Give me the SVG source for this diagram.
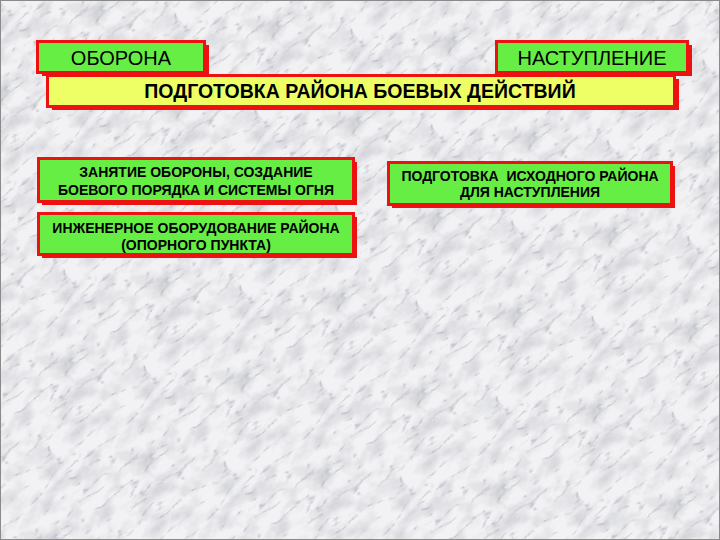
<svg xmlns="http://www.w3.org/2000/svg" width="720" height="540" viewBox="0 0 720 540">
<style>
.sh{fill:#ee1111}
.bx{stroke:#ee1111;stroke-width:3}
.g{fill:#66ee44}
.y{fill:#eeff66}
.big{font-family:"Liberation Sans",Arial,sans-serif;font-size:20px;fill:#000;text-anchor:middle}
.title{font-family:"Liberation Sans",Arial,sans-serif;font-size:19.5px;font-weight:bold;fill:#000;text-anchor:middle}
.sm{font-family:"Liberation Sans",Arial,sans-serif;font-size:14px;font-weight:bold;fill:#000;text-anchor:middle;white-space:pre}
</style>
<defs>
<filter id="marble" x="0" y="0" width="100%" height="100%" color-interpolation-filters="sRGB">
<feTurbulence type="fractalNoise" baseFrequency="0.04 0.06" numOctaves="4" seed="11" stitchTiles="stitch" result="c"/>
<feColorMatrix in="c" type="matrix" values="0 0 0 0 0  0 0 0 0 0  0 0 0 0 0  -1.6 0 0 0 0.95" result="ca"/>
<feFlood flood-color="#c8c9d0" result="cf"/>
<feComposite in="cf" in2="ca" operator="in" result="clouds"/>
<feTurbulence type="turbulence" baseFrequency="0.024 0.06" numOctaves="4" seed="5" stitchTiles="stitch" result="t"/>
<feColorMatrix in="t" type="matrix" values="0 0 0 0 0  0 0 0 0 0  0 0 0 0 0  -3.5 0 0 0 0.6" result="a"/>
<feFlood flood-color="#9a9ca8" result="f"/>
<feComposite in="f" in2="a" operator="in" result="veins"/>
<feFlood flood-color="#f2f2f4" result="base"/>
<feMerge><feMergeNode in="base"/><feMergeNode in="clouds"/><feMergeNode in="veins"/></feMerge>
</filter>
<pattern id="tile" width="125" height="125" patternUnits="userSpaceOnUse" patternTransform="rotate(-40)">
<rect width="125" height="125" filter="url(#marble)"/>
</pattern>
</defs>
<rect width="720" height="540" fill="#ececef"/>
<rect width="720" height="540" fill="url(#tile)"/>
<rect x="0.5" y="0.5" width="719" height="539" fill="none" stroke="#8a8a8a" stroke-width="1"/>
<g id="oborona">
<rect class="sh" x="42" y="45" width="167" height="31"/>
<rect class="bx g" x="37.5" y="41.5" width="167" height="31"/>
<text class="big" x="121" y="65">ОБОРОНА</text>
</g>
<g id="nastuplenie">
<rect class="sh" x="501" y="45" width="191" height="31"/>
<rect class="bx g" x="496.5" y="41.5" width="191" height="31"/>
<text class="big" x="592" y="65">НАСТУПЛЕНИЕ</text>
</g>
<g id="podgotovka">
<rect class="sh" x="52" y="79" width="627" height="31"/>
<rect class="bx y" x="47.5" y="75.5" width="627" height="31"/>
<text class="title" x="360" y="98">ПОДГОТОВКА РАЙОНА БОЕВЫХ ДЕЙСТВИЙ</text>
</g>
<g id="zanyatie">
<rect class="sh" x="42" y="162" width="315" height="43"/>
<rect class="bx g" x="38.5" y="158.5" width="315" height="43"/>
<text class="sm" x="196" y="177">ЗАНЯТИЕ ОБОРОНЫ, СОЗДАНИЕ</text>
<text class="sm" x="196" y="195">БОЕВОГО ПОРЯДКА И СИСТЕМЫ ОГНЯ</text>
</g>
<g id="inzhenernoe">
<rect class="sh" x="42" y="217" width="315" height="41"/>
<rect class="bx g" x="38.5" y="213.5" width="315" height="41"/>
<text class="sm" x="196" y="233">ИНЖЕНЕРНОЕ ОБОРУДОВАНИЕ РАЙОНА</text>
<text class="sm" x="196" y="250">(ОПОРНОГО ПУНКТА)</text>
</g>
<g id="ishodny">
<rect class="sh" x="392" y="166" width="283" height="42"/>
<rect class="bx g" x="388.5" y="162.5" width="283" height="42"/>
<text class="sm" x="530" y="181">ПОДГОТОВКА  ИСХОДНОГО РАЙОНА</text>
<text class="sm" x="530" y="197">ДЛЯ НАСТУПЛЕНИЯ</text>
</g>
<g id="connectors"/>
</svg>
